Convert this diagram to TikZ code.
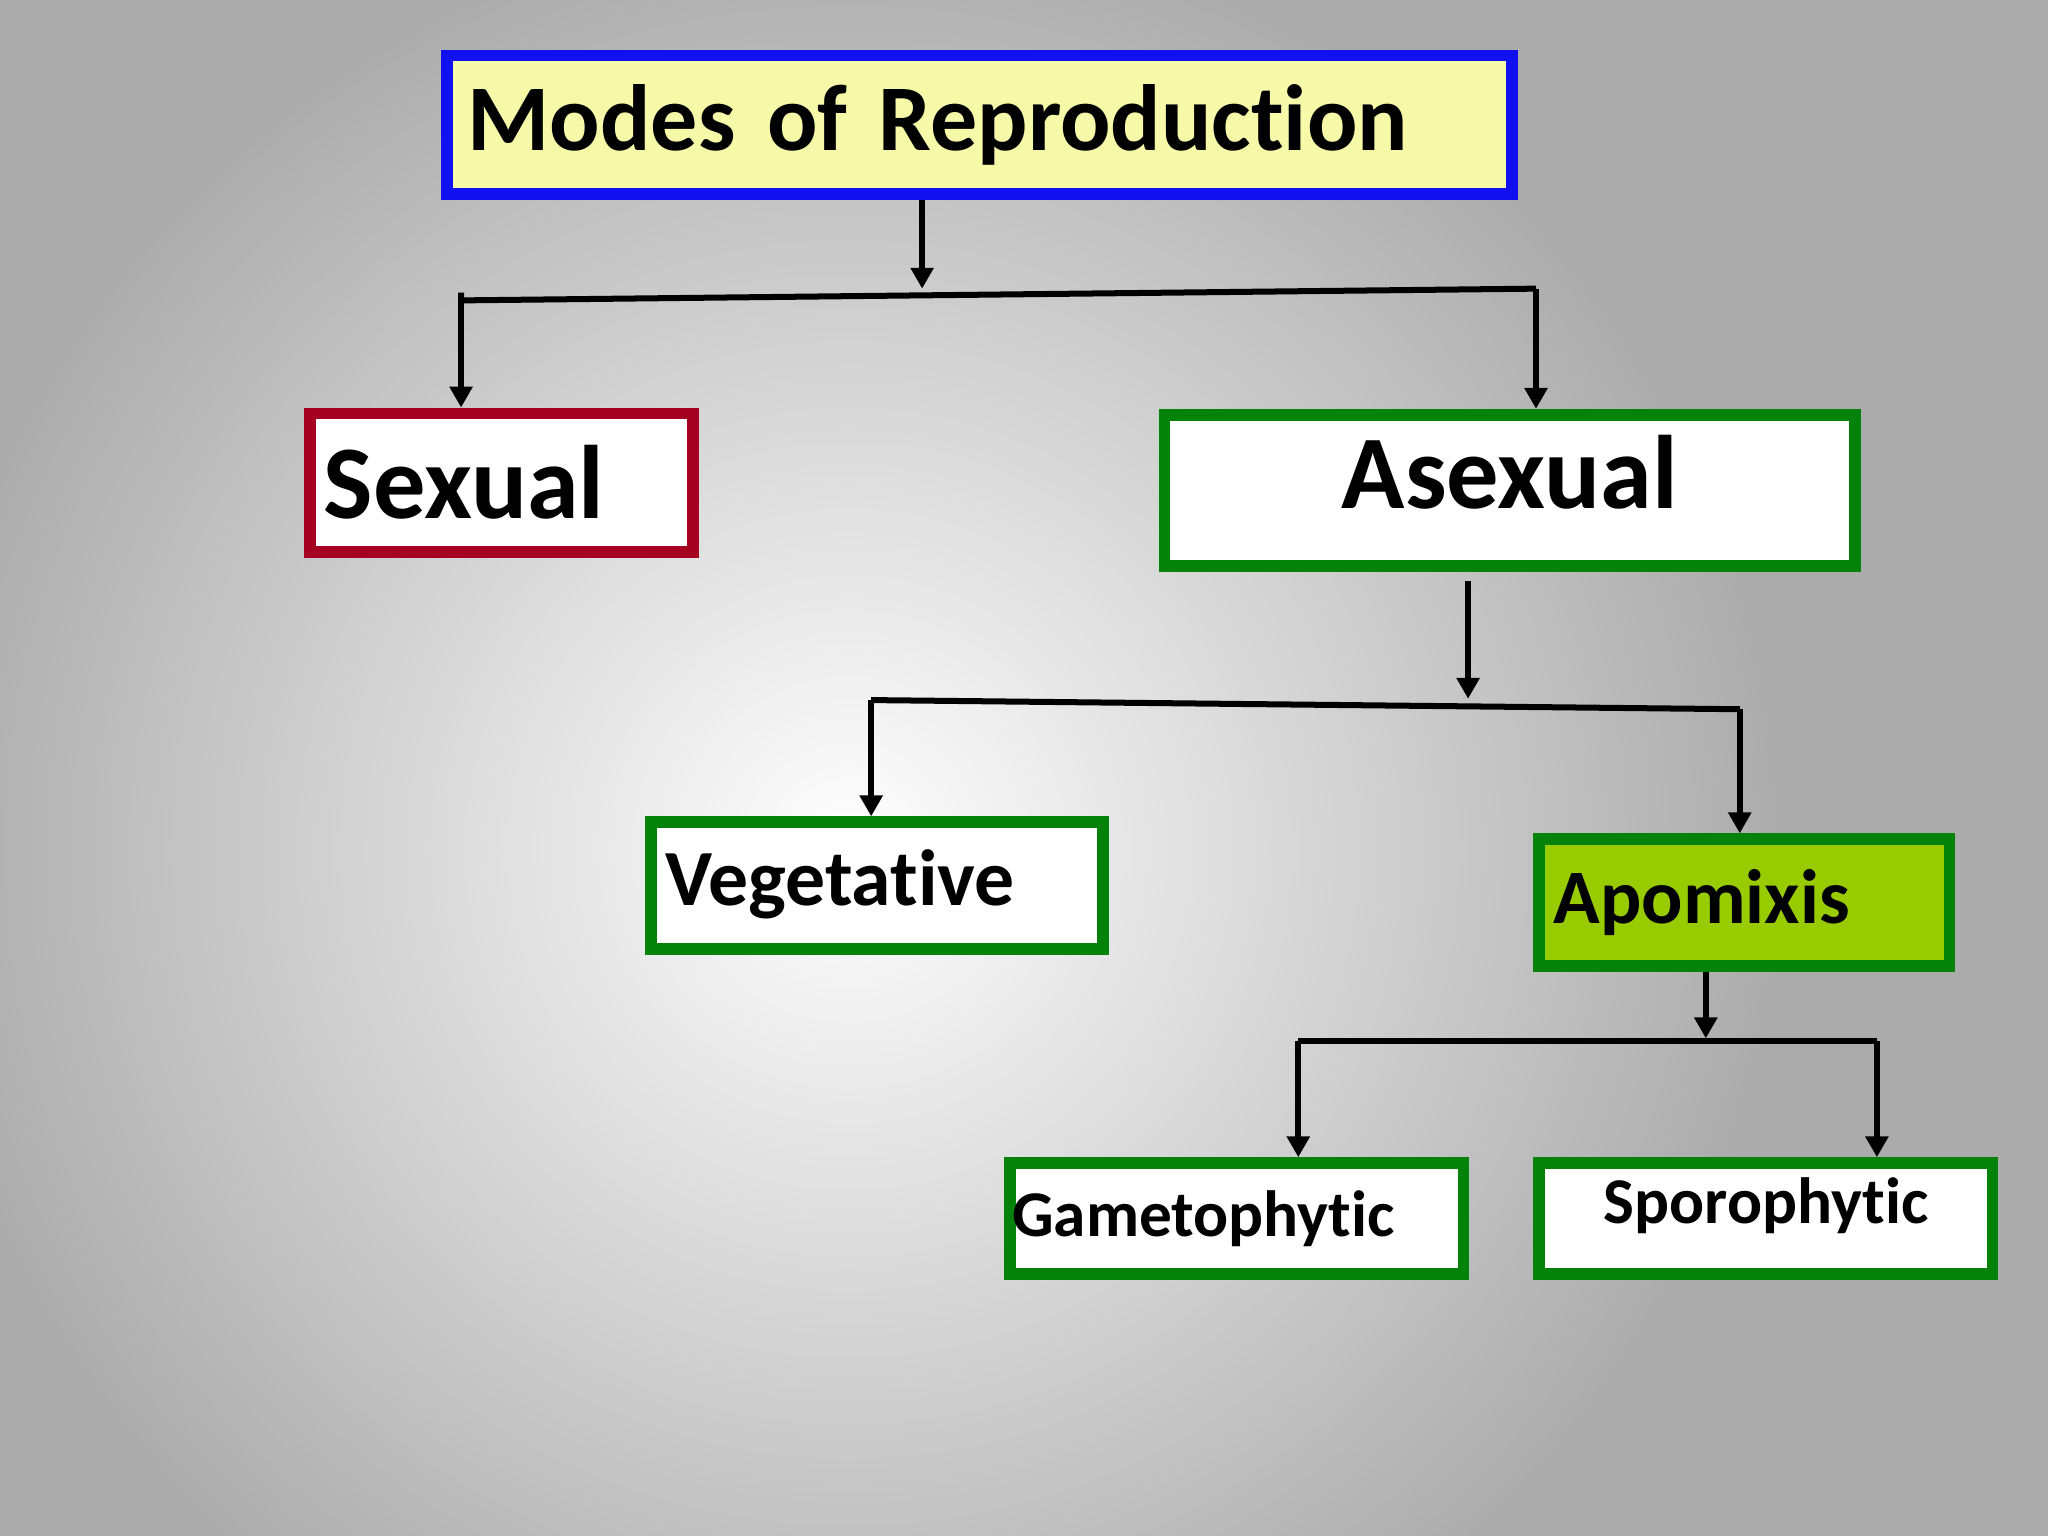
\documentclass[tikz,border=0pt]{standalone}
\usepackage{fontspec}
\setmainfont{Carlito}[Ligatures=NoCommon]
\usetikzlibrary{arrows.meta}
\definecolor{bxyellow}{HTML}{F5F9A8}
\definecolor{bxblue}{HTML}{1010F0}
\definecolor{bxred}{HTML}{A50021}
\definecolor{bxgreen}{HTML}{05820A}
\definecolor{bxlime}{HTML}{99CC00}
\begin{document}
\begin{tikzpicture}[x=0.5pt,y=-0.5pt,
  box/.style={draw, line width=4.5pt, minimum width=#1*0.5pt-4.5pt, inner xsep=0pt, font=\bfseries, anchor=north west},
  conn/.style={line width=2.3pt, black},
  arr/.style={conn, -{Triangle[width=8.5pt,length=8pt]}}]
\useasboundingbox (0,0) rectangle (1568,1176);
\fill[black!33] (0,0) rectangle (1568,1176);
\shade[inner color=white, outer color=black!33] (650,650) circle [radius=720];
\node[box=824, draw=bxblue, fill=bxyellow, minimum height=53pt, text width=400pt, align=left, font=\fontsize{36}{37}\bfseries\selectfont] (modes) at (338,38) {\hspace*{4pt}Modes of Reproduction};
\node[box=302, draw=bxred, fill=white, minimum height=53pt, text width=142pt, align=left, font=\fontsize{40}{41}\bfseries\selectfont] (sexual) at (233,312) {\hspace*{3pt}Sexual};
\node[box=538, draw=bxgreen, fill=white, minimum height=58pt, text width=260pt, align=center, font=\fontsize{40}{41}\bfseries\selectfont, text depth=14pt] (asexual) at (887,313) {Asexual};
\node[box=355, draw=bxgreen, fill=white, minimum height=48.5pt, text width=168pt, align=left, font=\fontsize{30.5}{31}\bfseries\selectfont, text depth=6pt] (veg) at (494,625) {\hspace*{3pt}Vegetative};
\node[box=323, draw=bxgreen, fill=bxlime, minimum height=48.5pt, text width=152pt, align=left, font=\fontsize{29.5}{30}\bfseries\selectfont] (apo) at (1174,638) {\hspace*{3pt}Apomixis};
\node[box=356, draw=bxgreen, fill=white, minimum height=42.5pt, text width=170pt, align=left, font=\fontsize{25}{26}\bfseries\selectfont] (gam) at (769,886) {\hspace*{-1pt}Gametophytic};
\node[box=356, draw=bxgreen, fill=white, minimum height=42.5pt, text width=154pt, align=center, font=\fontsize{25}{26}\bfseries\selectfont, text depth=14pt] (spo) at (1174,886) {Sporophytic};
\coordinate (b1) at (706,221);
\coordinate (l1) at (353,230);
\coordinate (r1) at (1176,221);
\draw[arr] (modes.south -| b1) -- (b1);
\draw[conn] (353,224) -- (l1) -- (r1);
\draw[arr] (l1) -- (sexual.north -| l1);
\draw[arr] (r1) -- (asexual.north -| r1);
\coordinate (b2) at (1124,535);
\coordinate (l2) at (667,536);
\coordinate (r2) at (1332,543);
\draw[arr] (1124,445) -- (b2);
\draw[conn] (l2) -- (r2);
\draw[arr] (l2) -- (veg.north -| l2);
\draw[arr] (r2) -- (apo.north -| r2);
\coordinate (b3) at (1306,795);
\coordinate (l3) at (994,797);
\coordinate (r3) at (1437,797);
\draw[arr] (apo.south -| b3) -- (b3);
\draw[conn] (l3) -- (r3);
\draw[arr] (l3) -- (gam.north -| l3);
\draw[arr] (r3) -- (spo.north -| r3);
\end{tikzpicture}
\end{document}
